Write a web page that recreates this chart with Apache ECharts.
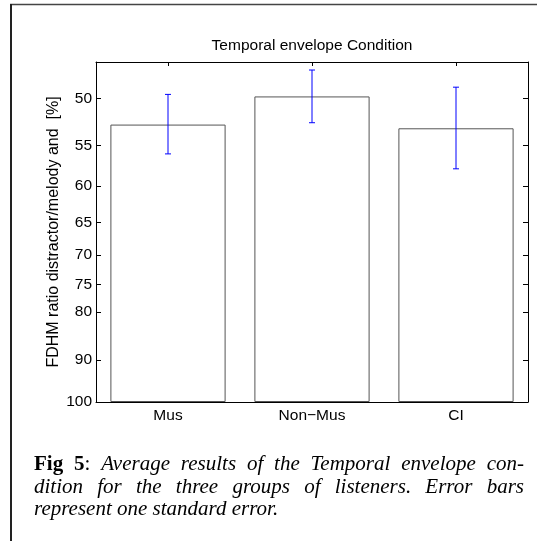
<!DOCTYPE html>
<html>
<head>
<meta charset="utf-8">
<script src="https://cdn.jsdelivr.net/npm/echarts@6/dist/echarts.min.js"></script>
<style>
html,body{margin:0;padding:0;background:#fff;}
#c{width:537px;height:541px;}
</style>
</head>
<body>
<div id="c"></div>
<script>
// ---- data ----
const categories = ['Mus', 'Non\u2212Mus', 'CI'];
const meanPct = [52.7, 49.8, 53.1];
const errTopPct = [49.6, 47.3, 48.9];
const errBottomPct = [56.0, 52.5, 57.8];
const yTickLabels = [50, 55, 60, 65, 70, 75, 80, 90, 100];

// axis mapping used by the original figure (non-linear, 100 at the bottom)
const OFF = 18, BASE = 82;
const tf = v => Math.log(BASE / (v - OFF));

const yCustom = yTickLabels.map(tf);
const labelFor = t => {
  let best = 0, bd = Infinity;
  yCustom.forEach((c, i) => { const d = Math.abs(c - t); if (d < bd) { bd = d; best = i; } });
  return String(yTickLabels[best]);
};

// ---- caption layout (justified text) ----
const CAP = 21;
const SERIF = '"Liberation Serif"';
const fItal = 'italic ' + CAP + 'px ' + SERIF;
const fBold = 'bold ' + CAP + 'px ' + SERIF;
const fReg = CAP + 'px ' + SERIF;
const mctx = document.createElement('canvas').getContext('2d');
const mw = (t, f) => { mctx.font = f; return mctx.measureText(t).width; };

function justifyLine(tokens, x0, x1, y) {
  const widths = tokens.map(tk => tk.reduce((s, p) => s + mw(p[0], p[1]), 0));
  const total = widths.reduce((a, b) => a + b, 0);
  const gap = (x1 - x0 - total) / (tokens.length - 1);
  const out = [];
  let x = x0;
  tokens.forEach((tk, i) => {
    let px = x;
    tk.forEach(p => {
      out.push({type: 'text', x: px, y: y, style: {text: p[0], font: p[1], fill: '#000', textAlign: 'left', textVerticalAlign: 'middle'}});
      px += mw(p[0], p[1]);
    });
    x += widths[i] + gap;
  });
  return out;
}

const L = 34, R = 524;
const line1 = [[['Fig', fBold]], [['5', fBold], [':', fReg]]].concat(
  'Average results of the Temporal envelope con-'.split(' ').map(w => [[w, fItal]]));
const line2 = 'dition for the three groups of listeners. Error bars'.split(' ').map(w => [[w, fItal]]);
const capGraphics = [].concat(
  justifyLine(line1, L, R, 464.5),
  justifyLine(line2, L, R, 487),
  [{type: 'text', x: L, y: 509.5, style: {text: 'represent one standard error.', font: fItal, fill: '#000', textAlign: 'left', textVerticalAlign: 'middle'}}]
);

const chart = echarts.init(document.getElementById('c'), null, {renderer: 'canvas'});
const FONT = 'Liberation Sans';
const FS = 15.5;
const YMAX = 1.054;

const yCommon = {
  type: 'value', min: 0, max: YMAX,
  splitLine: {show: false},
  axisLine: {show: true, lineStyle: {color: '#000', width: 1}},
  axisTick: {show: true, inside: true, length: 5, customValues: yCustom, lineStyle: {color: '#000'}}
};

chart.setOption({
  animation: false,
  backgroundColor: '#fff',
  textStyle: {fontFamily: FONT},
  grid: {left: 96, top: 62, width: 432, height: 340, containLabel: false},
  xAxis: [{
    type: 'category', data: categories, position: 'bottom',
    axisLine: {show: true, onZero: false, lineStyle: {color: '#000', width: 1}},
    axisTick: {show: false},
    axisLabel: {fontSize: FS, color: '#000', fontFamily: FONT, margin: 6},
    splitLine: {show: false}
  }, {
    type: 'category', data: categories, position: 'top',
    axisLine: {show: true, onZero: false, lineStyle: {color: '#000', width: 1}},
    axisTick: {show: true, inside: true, alignWithLabel: true, length: 4, lineStyle: {color: '#000'}},
    axisLabel: {show: false}
  }],
  yAxis: [Object.assign({}, yCommon, {
    position: 'left',
    name: 'FDHM ratio distractor/melody and  [%]',
    nameLocation: 'middle', nameGap: 34, nameMoveOverlap: false,
    nameTextStyle: {fontSize: 16, color: '#000', fontFamily: FONT},
    axisLabel: {show: true, customValues: yCustom, formatter: labelFor, fontSize: FS, color: '#000', fontFamily: FONT, margin: 4}
  }), Object.assign({}, yCommon, {
    position: 'right',
    axisLabel: {show: false}
  })],
  series: [{
    type: 'bar',
    xAxisIndex: 0, yAxisIndex: 0,
    data: meanPct.map(tf),
    barWidth: '80%',
    itemStyle: {color: '#fff', borderColor: '#555', borderWidth: 1},
    z: 3
  }, {
    type: 'custom',
    xAxisIndex: 0, yAxisIndex: 0,
    data: categories.map((c, i) => [i, tf(errTopPct[i]), tf(errBottomPct[i])]),
    renderItem: function (params, api) {
      const top = api.coord([api.value(0), api.value(1)]);
      const bot = api.coord([api.value(0), api.value(2)]);
      const hw = 3;
      const st = {stroke: '#0000ff', lineWidth: 1};
      return {
        type: 'group',
        children: [
          {type: 'line', shape: {x1: top[0], y1: top[1], x2: bot[0], y2: bot[1]}, style: st},
          {type: 'line', shape: {x1: top[0] - hw, y1: top[1], x2: top[0] + hw, y2: top[1]}, style: st},
          {type: 'line', shape: {x1: bot[0] - hw, y1: bot[1], x2: bot[0] + hw, y2: bot[1]}, style: st}
        ]
      };
    },
    z: 5
  }],
  graphic: [
    {type: 'line', shape: {x1: 10, y1: 4.5, x2: 537, y2: 4.5}, style: {stroke: '#444', lineWidth: 1.5}},
    {type: 'line', shape: {x1: 11, y1: 4, x2: 11, y2: 541}, style: {stroke: '#222', lineWidth: 2}},
    {type: 'text', x: 312, y: 45.5, style: {text: 'Temporal envelope Condition', font: FS + 'px "Liberation Sans"', fill: '#000', textAlign: 'center', textVerticalAlign: 'middle'}}
  ].concat(capGraphics)
});
</script>
</body>
</html>
